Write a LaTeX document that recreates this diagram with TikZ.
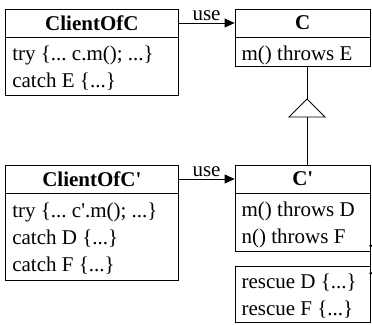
\documentclass[tikz,border=0pt]{standalone}
\usepackage{fontspec}
\setmainfont{Liberation Serif}[Ligatures=TeXOff]
\usetikzlibrary{arrows.meta}
\frenchspacing
\begin{document}
\begin{tikzpicture}[x=1pt,y=-1pt,
  every node/.style={font=\fontsize{21}{27}\selectfont},
  hdr/.style={draw, line width=0.8pt, inner sep=0pt, minimum height=28pt, font=\fontsize{21}{27}\selectfont\bfseries},
  bodybox/.style={draw, line width=0.8pt, inner sep=0pt, anchor=north},
  txt/.style={inner sep=0pt, align=left, anchor=north west},
  wide/.style={minimum width=172.3pt},
  narrow/.style={minimum width=135.5pt},
  use/.style={line width=0.8pt, -{Triangle[length=10pt,width=9pt]}},
  link/.style={line width=0.8pt}
]
\useasboundingbox (0,0) rectangle (372,324);
% ClientOfC
\node[hdr, wide] (cofch) at (91.85,23) {ClientOfC};
\node[bodybox, wide, minimum height=58pt] (cofcb) at (cofch.south) {};
\node[txt] (cofct) at ([shift={(6.8,4)}]cofcb.north west) {\strut try \{... c.m(); ...\}\\\strut catch E \{...\}};
% C
\node[hdr, narrow] (ch) at (302.75,23) {C};
\node[bodybox, narrow, minimum height=29pt] (cb) at (ch.south) {};
\node[txt] (ct) at ([shift={(6.8,4)}]cb.north west) {\strut m() throws E};
% ClientOfC'
\node[hdr, wide] (cofcph) at (91.85,179) {ClientOfC'};
\node[bodybox, wide, minimum height=87pt] (cofcpb) at (cofcph.south) {};
\node[txt] (cofcpt) at ([shift={(6.8,4.5)}]cofcpb.north west) {\strut try \{... c'.m(); ...\}\\\strut catch D \{...\}\\\strut catch F \{...\}};
% C'
\node[hdr, narrow] (cph) at (302.75,179) {C'};
\node[bodybox, narrow, minimum height=57.7pt] (cpb) at (cph.south) {};
\node[txt] (cpt) at ([shift={(6.8,4)}]cpb.north west) {\strut m() throws D\\\strut n() throws F};
% rescue
\node[bodybox, narrow, minimum height=56.3pt] (rb) at (302.75,265.7) {};
\node[txt] (rt) at ([shift={(6.8,4)}]rb.north west) {\strut rescue D \{...\}\\\strut rescue F \{...\}};
% use arrows
\draw[use] (cofch.east) -- (ch.west) node[midway, above, inner sep=2pt] {use};
\draw[use] (cofcph.east) -- (cph.west) node[midway, above, inner sep=2pt] {use};
% inheritance
\coordinate (apex) at (307,99);
\coordinate (bl) at (289,117);
\coordinate (br) at (325,117);
\coordinate (bm) at (307,117);
\draw[link] (cb.south -| apex) -- (apex);
\draw[link, fill=white] (apex) -- (br) -- (bl) -- cycle;
\draw[link] (bm) -- (cph.north -| bm);
% link C' -> rescue
\coordinate (l1) at (370.8,245.7);
\coordinate (l2) at (370.8,273.3);
\draw[link] (l1) -- (l2);
\fill (l1) circle (1.6pt);
\fill (l2) circle (1.6pt);
\end{tikzpicture}
\end{document}
